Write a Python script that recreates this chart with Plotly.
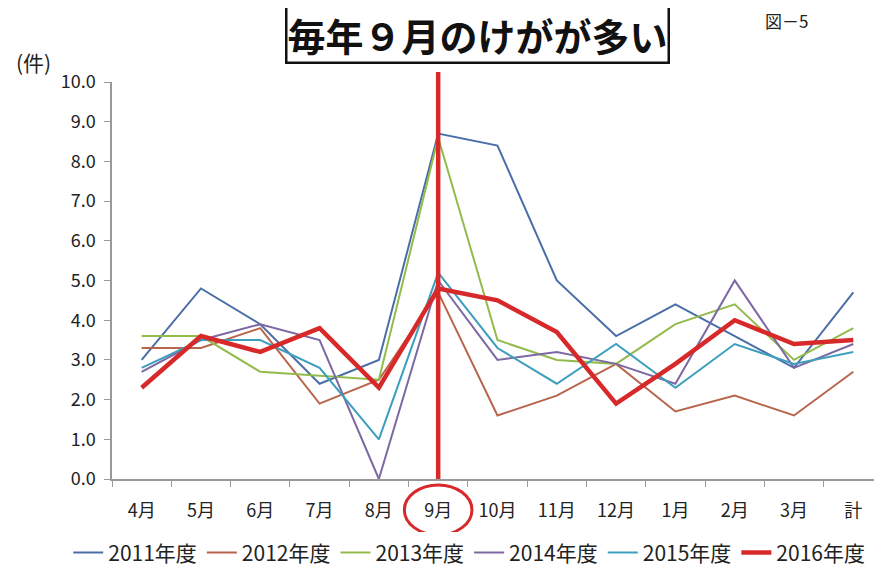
import plotly.graph_objects as go

months = ["4月", "5月", "6月", "7月", "8月", "9月", "10月", "11月", "12月", "1月", "2月", "3月", "計"]

y2011 = [3.0, 4.8, 3.9, 2.4, 3.0, 8.7, 8.4, 5.0, 3.6, 4.4, 3.6, 2.8, 4.7]
y2012 = [3.3, 3.3, 3.8, 1.9, 2.5, 4.7, 1.6, 2.1, 2.9, 1.7, 2.1, 1.6, 2.7]
y2013 = [3.6, 3.6, 2.7, 2.6, 2.5, 8.6, 3.5, 3.0, 2.9, 3.9, 4.4, 3.0, 3.8]
y2014 = [2.7, 3.5, 3.9, 3.5, 0.0, 5.0, 3.0, 3.2, 2.9, 2.4, 5.0, 2.8, 3.4]
y2015 = [2.8, 3.5, 3.5, 2.8, 1.0, 5.2, 3.3, 2.4, 3.4, 2.3, 3.4, 2.9, 3.2]
y2016 = [2.3, 3.6, 3.2, 3.8, 2.3, 4.8, 4.5, 3.7, 1.9, 2.9, 4.0, 3.4, 3.5]

series_names = ["2011年度", "2012年度", "2013年度", "2014年度", "2015年度", "2016年度"]
series_values = [y2011, y2012, y2013, y2014, y2015, y2016]
colors = ["#4a6fa8", "#b8654c", "#93bb4c", "#7c68a2", "#3d9fbd", "#d8292a"]
widths = [2, 2, 2, 2, 2, 4.5]

highlight_month = "9月"
title_text = "毎年９月のけがが多い"

FONT = "Noto Sans CJK JP"

fig = go.Figure()
for name, vals, color, w in zip(series_names, series_values, colors, widths):
    fig.add_trace(go.Scatter(
        x=months, y=vals, name=name, mode="lines",
        line=dict(color=color, width=w),
    ))

# red vertical marker on September
fig.add_shape(type="line", xref="x", yref="paper", x0=highlight_month, x1=highlight_month,
              y0=0, y1=1.025, line=dict(color="#d8292a", width=4.5), layer="above")
# red ellipse around the September tick label
idx = months.index(highlight_month)
fig.add_shape(type="circle", xref="x", yref="paper", x0=idx - 0.57, x1=idx + 0.57,
              y0=-0.141, y1=-0.015, line=dict(color="#d8292a", width=3))

fig.add_annotation(text="<b>" + title_text + "</b>", xref="paper", yref="paper",
                   x=0.476, y=1.121, xanchor="center", yanchor="middle", showarrow=False,
                   font=dict(family=FONT, size=38, color="#111"),
                   bordercolor="#111", borderwidth=2.5, borderpad=0, bgcolor="white")
fig.add_annotation(text="図－5", xref="paper", yref="paper", x=0.878, y=1.156,
                   xanchor="center", yanchor="middle", showarrow=False,
                   font=dict(family=FONT, size=17, color="#222"))
fig.add_annotation(text="(件)", xref="paper", yref="paper", x=-0.128, y=1.05,
                   xanchor="left", yanchor="middle", showarrow=False,
                   font=dict(family=FONT, size=21, color="#222"))

# the page adds an 8px body margin, so the margins are offset by that amount
fig.update_layout(
    width=882, height=572,
    margin=dict(l=104, r=10, t=74, b=101, autoexpand=False),
    paper_bgcolor="white", plot_bgcolor="white",
    font=dict(family=FONT, size=17, color="#222"),
    showlegend=True,
    legend=dict(orientation="h", x=-0.057, xanchor="left", y=-0.186, yanchor="middle",
                font=dict(size=21), itemwidth=30, tracegroupgap=0),
)
fig.update_xaxes(
    range=[-0.5, 12.45], showgrid=False, showline=True, linecolor="#999", linewidth=1.5,
    ticks="outside", tickson="boundaries", ticklen=6, tickcolor="#999",
    tickfont=dict(size=18), ticklabelstandoff=15, fixedrange=True, automargin=False,
)
fig.update_yaxes(
    range=[0, 10], dtick=1, tickformat=".1f", showgrid=False, showline=True,
    linecolor="#999", linewidth=1.5, ticks="outside", ticklen=6, tickcolor="#999",
    tickfont=dict(size=18), ticklabelstandoff=5, zeroline=False, automargin=False,
)

fig.write_html("out.html")
